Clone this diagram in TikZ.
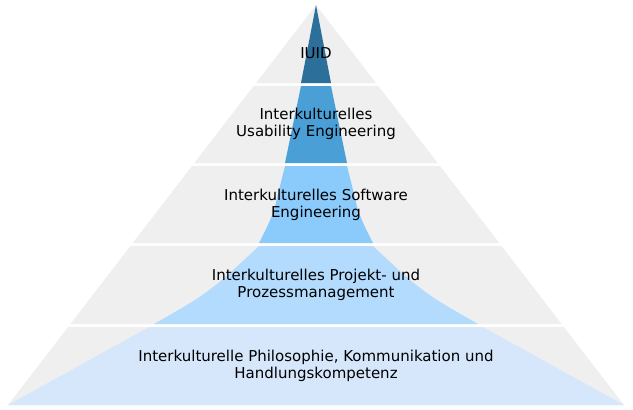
\documentclass[tikz,border=0pt]{standalone}
\usepackage{fontspec}
\setmainfont{DejaVu Sans}
\begin{document}
\begin{tikzpicture}[x=1pt,y=-1pt,
  layer/.style={fill=greyl},
  lbl/.style={align=center, font=\fontsize{15}{16.5}\selectfont, inner sep=0pt}]
\definecolor{greyl}{HTML}{EFEFEF}
\definecolor{blueA}{HTML}{2C6F9A}
\definecolor{blueB}{HTML}{4A9FD6}
\definecolor{blueC}{HTML}{8ACBFB}
\definecolor{blueD}{HTML}{B3DBFD}
\definecolor{blueE}{HTML}{D6E7FB}
\useasboundingbox (0,0) rectangle (633,410);
% grey layers
\fill[layer] (316,5) -- (376,83) -- (256,83) -- cycle;
\fill[layer] (253.6,86) -- (378.4,86) -- (437.7,163) -- (194.3,163) -- cycle;
\fill[layer] (192,166) -- (440,166) -- (499.3,243) -- (132.7,243) -- cycle;
\fill[layer] (130.4,246) -- (501.6,246) -- (561.6,324) -- (70.4,324) -- cycle;
\fill[layer] (68.1,327) -- (563.9,327) -- (624,405) -- (8,405) -- cycle;
% blue core
\fill[blueA] (316,5) -- (331,83) -- (301,83) -- cycle;
\fill[blueB] (301,86) -- (331,86) -- (347,163) -- (285,163) -- cycle;
\fill[blueC] plot[smooth] coordinates {(347,166) (353,190) (358,210) (365,227) (373,243)}
  -- plot[smooth] coordinates {(259,243) (267,227) (274,210) (279,190) (285,166)} -- cycle;
\fill[blueD] plot[smooth] coordinates {(373,246) (388,260) (410,280) (437,300) (478,324)}
  -- plot[smooth] coordinates {(154,324) (195,300) (222,280) (244,260) (259,246)} -- cycle;
\fill[blueE] (149,327) -- (483,327) -- (624,405) -- (8,405) -- cycle;
% labels
\node[lbl] (l1) at (316,53) {IUID};
\node[lbl] (l2) at (316,124) {Interkulturelles\\Usability Engineering};
\node[lbl] (l3) at (316,205) {Interkulturelles Software\\Engineering};
\node[lbl] (l4) at (316,285) {Interkulturelles Projekt- und\\Prozessmanagement};
\node[lbl] (l5) at (316,366) {Interkulturelle Philosophie, Kommunikation und\\Handlungskompetenz};
\end{tikzpicture}
\end{document}
